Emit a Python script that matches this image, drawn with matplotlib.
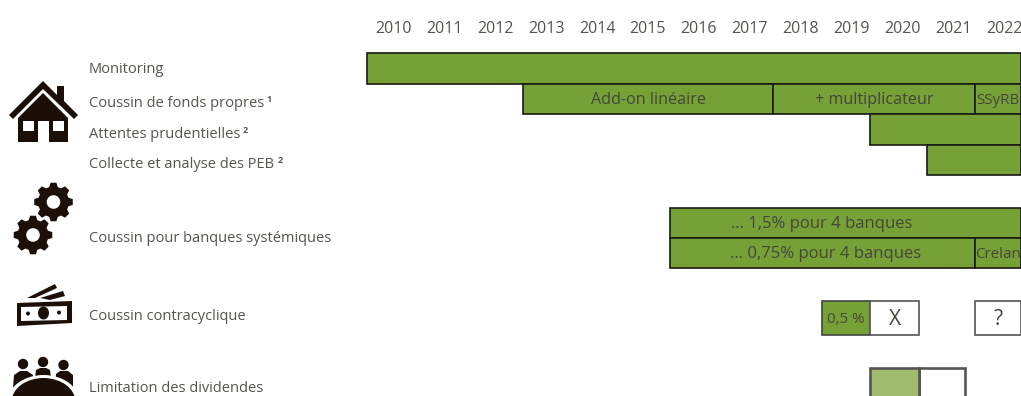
import numpy as np
import matplotlib
matplotlib.use('Agg')
import matplotlib.pyplot as plt
from matplotlib.patches import Circle, Ellipse, Polygon, Rectangle

plt.rcParams['font.family'] = ['Open Sans', 'DejaVu Sans']

years = [2010, 2011, 2012, 2013, 2014, 2015, 2016, 2017, 2018, 2019, 2020, 2021, 2022]

row_labels = ['Monitoring', 'Coussin de fonds propres', 'Attentes prudentielles',
              'Collecte et analyse des PEB', 'Coussin pour banques systémiques',
              'Coussin contracyclique', 'Limitation des dividendes']
row_notes = ['', '1', '2', '2', '', '', '']

# segments of each row: start year, end year, text
monitoring = [(2010.0, 2022.84, '')]
fonds_propres = [(2013.06, 2017.97, 'Add-on linéaire'),
                 (2017.97, 2021.93, '+ multiplicateur'),
                 (2021.93, 2022.84, 'SSyRB')]
attentes = [(2019.88, 2022.84, '')]
collecte = [(2021.0, 2022.84, '')]
systemiques_1 = [(2015.95, 2022.84, '… 1,5% pour 4 banques')]
systemiques_2 = [(2015.95, 2021.93, '… 0,75% pour 4 banques'),
                 (2021.93, 2022.84, 'Crelan')]
contracyclique = [(2018.93, 2019.88, '0,5 %')]
contracyclique_vide = [(2019.88, 2020.83, 'X'), (2021.93, 2022.84, '?')]
dividendes = [(2019.88, 2020.83, '')]
dividendes_vide = [(2020.83, 2021.74, '')]

GREEN = '#76a136'
LIGHT = '#a0bc6e'
TEXT = '#55544e'
BAR_TEXT = '#45463a'
ICON = '#1c0f08'

fig = plt.figure(figsize=(10.21, 3.96), dpi=100)

# bars: x in years, y in pixels from the top
ax = fig.add_axes([0, 0, 1, 1])
ax.set_xlim(2010 - 367.5 / 50.9, 2010 + (1021 - 367.5) / 50.9)
ax.set_ylim(396, 0)
ax.axis('off')

# labels and icons in pixel coordinates
px = fig.add_axes([0, 0, 1, 1], facecolor='none')
px.set_xlim(0, 1021)
px.set_ylim(396, 0)
px.axis('off')


def draw_row(segments, top, bottom, color, edge='#1a1a14', lw=1.2, fontsize=11.6, text_x=None):
    for start, end, text in segments:
        ax.barh((top + bottom) / 2, end - start, left=start, height=bottom - top,
                color=color, edgecolor=edge, linewidth=lw)
        if text:
            x = (start + end) / 2 if text_x is None else text_x
            size = 10.9 if end - start < 1 and len(text) > 1 else fontsize
            ax.text(x, (top + bottom) / 2 + 1.5, text, ha='center', va='center',
                    color=BAR_TEXT, fontsize=size)


draw_row(monitoring, 53, 83.5, GREEN)
draw_row(fonds_propres, 83.5, 114, GREEN)
draw_row(attentes, 114, 145, GREEN)
draw_row(collecte, 145, 175, GREEN)
draw_row(systemiques_1, 208, 238, GREEN, fontsize=12, text_x=2018.92)
draw_row(systemiques_2[:1], 238, 268, GREEN, fontsize=12, text_x=2019.0)
draw_row(systemiques_2[1:], 238, 268, GREEN)
draw_row(contracyclique, 301, 335, GREEN, edge='#444444')
draw_row(contracyclique_vide, 301, 335, 'white', edge='#555555', fontsize=15)
draw_row(dividendes_vide, 368, 410, 'white', edge='#555555', lw=1.9)
draw_row(dividendes, 368, 410, LIGHT, edge='#555555', lw=1.9)

for y in years:
    ax.text(y + 0.51, 29, str(y), ha='center', va='center', color=TEXT, fontsize=11.5)

# row labels on the left, footnote marks after them
label_y = [69.5, 103.5, 134.5, 164.5, 238.5, 316.5, 388.5]
note_x = [0, 266, 243, 278, 0, 0, 0]
for text, note, y, nx in zip(row_labels, row_notes, label_y, note_x):
    px.text(89, y, text, ha='left', va='center', color=TEXT, fontsize=10.5)
    if note:
        px.text(nx, y - 4, note, ha='left', va='center', color=TEXT, fontsize=6.5, fontweight='bold')

# house
px.add_patch(Polygon([(9, 115), (43, 81), (57, 95), (57, 86), (64, 86), (64, 101), (78, 115), (74, 119),
                      (43, 89), (13, 119)], color=ICON, lw=0))
px.add_patch(Polygon([(18, 118), (43, 93), (68, 118), (68, 142), (49, 142), (49, 121), (38, 121),
                      (38, 142), (18, 142)], color=ICON, lw=0))
px.add_patch(Rectangle((23, 121), 11, 10, color='white', lw=0))
px.add_patch(Rectangle((53, 121), 11, 10, color='white', lw=0))


# gears
def gear(cx, cy, r_out, r_in, r_hole, teeth=8):
    pts = []
    for i in range(teeth):
        a = 2 * np.pi * i / teeth
        w = np.pi / teeth
        for da, r in [(-w * 0.72, r_in), (-w * 0.38, r_out), (w * 0.38, r_out), (w * 0.72, r_in)]:
            pts.append((cx + r * np.cos(a + da), cy + r * np.sin(a + da)))
    px.add_patch(Polygon(pts, color=ICON, lw=0))
    px.add_patch(Circle((cx, cy), r_hole, color='white', lw=0))


gear(53.5, 202, 19.5, 15.5, 6.8)
gear(33, 235, 19.5, 15.5, 6.8)

# banknotes
px.add_patch(Polygon([(27, 298), (55, 284), (57, 288), (35, 298)], color=ICON, lw=0))
px.add_patch(Polygon([(40, 298), (63, 291), (65, 296), (50, 300)], color=ICON, lw=0))
px.add_patch(Polygon([(17, 303), (72, 301), (72, 323), (17, 326)], color=ICON, lw=0))
px.add_patch(Polygon([(21, 307), (67, 306), (67, 320), (21, 321)], color='white', lw=0))
px.add_patch(Ellipse((43.5, 313), 11, 13, color=ICON, lw=0))
px.add_patch(Circle((28, 313.5), 2, color=ICON, lw=0))
px.add_patch(Circle((59, 312.5), 2, color=ICON, lw=0))

# people round a table
for cx, cy in [(23, 364), (43, 362), (63.5, 365)]:
    px.add_patch(Circle((cx, cy), 5.2, color=ICON, lw=0))
px.add_patch(Polygon([(13, 388), (14, 375), (20, 371), (27, 371), (33, 375), (33, 385), (13, 395)],
                     color=ICON, lw=0))
px.add_patch(Polygon([(35, 378), (36, 370), (40, 368), (46, 368), (50, 370), (51, 378)], color=ICON, lw=0))
px.add_patch(Polygon([(55, 385), (56, 374), (60, 371), (68, 371), (73, 375), (73, 395)], color=ICON, lw=0))
px.add_patch(Ellipse((43.5, 402), 72, 54, color='white', lw=0))
px.add_patch(Ellipse((43.5, 402), 64, 48, color=ICON, lw=0))

fig.savefig('out.png', dpi=100)
